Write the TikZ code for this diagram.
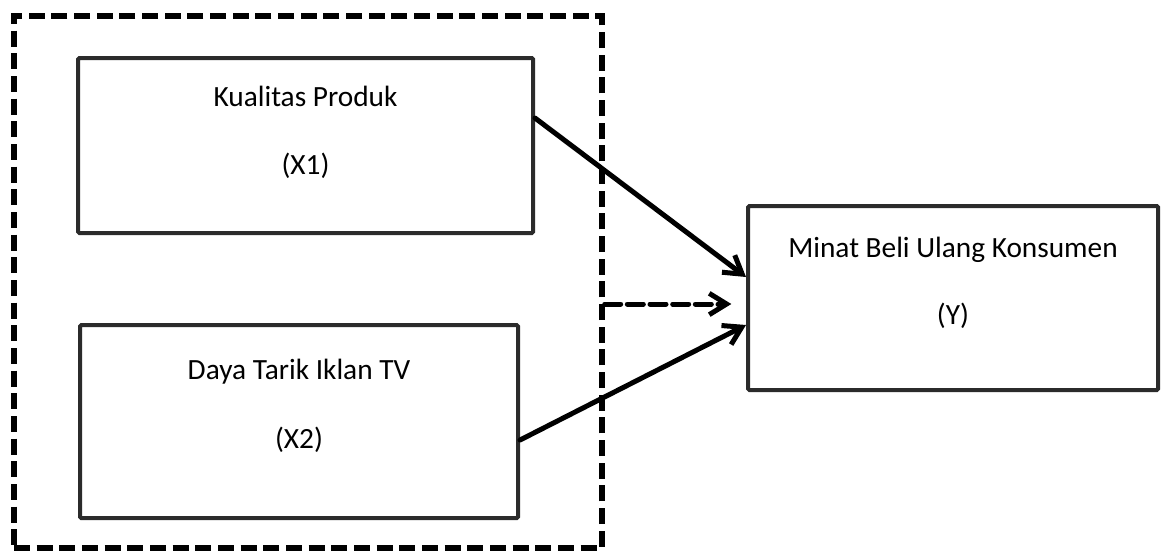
\documentclass[tikz,border=0pt]{standalone}
\usepackage{fontspec}
\setmainfont{Carlito}
\usepackage{tikz}
\usetikzlibrary{arrows.meta,positioning,calc}
\definecolor{boxgray}{HTML}{2B2B2B}

\begin{document}
\begin{tikzpicture}[
    x=0.75pt, y=-0.75pt,
    varbox/.style={rectangle, draw=boxgray, line width=3pt, rounded corners=1pt, fill=white, inner sep=0pt},
    lbl/.style={font=\fontsize{22}{26}\selectfont, text=black, inner sep=0pt},
    group/.style={rectangle, draw=black, line width=4pt, dash pattern=on 12pt off 5pt, inner sep=0pt},
    arrow/.style={-{Straight Barb[length=13pt,width=16pt,line width=3.75pt]}, line width=3.75pt, line cap=round, line join=round},
    dasharrow/.style={arrow, dash pattern=on 12pt off 5pt}
]
    \useasboundingbox (0,0) rectangle (1162,553);

    % Grouping of the independent variables
    \node[group, minimum width=441pt, minimum height=399pt] (grp) at (308,282) {};

    % Variables
    \node[varbox, minimum width=341.25pt, minimum height=131.25pt] (x1) at (305.5,145.5) {};
    \node[varbox, minimum width=328.5pt, minimum height=144.75pt] (x2) at (299,421.5) {};
    \node[varbox, minimum width=307.5pt, minimum height=138pt] (y) at (953,298) {};

    % Labels
    \node[lbl] (x1name) at ([yshift=-30.4pt]x1.north) {Kualitas Produk};
    \node[lbl] (x1sym) at ([yshift=-82.5pt]x1.north) {(X1)};
    \node[lbl] (x2name) at ([yshift=-36.75pt]x2.north) {Daya Tarik Iklan TV};
    \node[lbl] (x2sym) at ([yshift=-87.75pt]x2.north) {(X2)};
    \node[lbl] (yname) at ([yshift=-34.5pt]y.north) {Minat Beli Ulang Konsumen};
    \node[lbl] (ysym) at ([yshift=-84pt]y.north) {(Y)};

    % Arrows
    \draw[arrow] ([yshift=20.6pt]x1.east) -- ([yshift=15.75pt]y.west);
    \draw[arrow] ([yshift=-13.9pt]x2.east) -- ([yshift=-20.25pt]y.west);
    \draw[dasharrow] ([yshift=-16.5pt]grp.east) -- ([xshift=-11pt,yshift=-4.5pt]y.west);

\end{tikzpicture}
\end{document}
